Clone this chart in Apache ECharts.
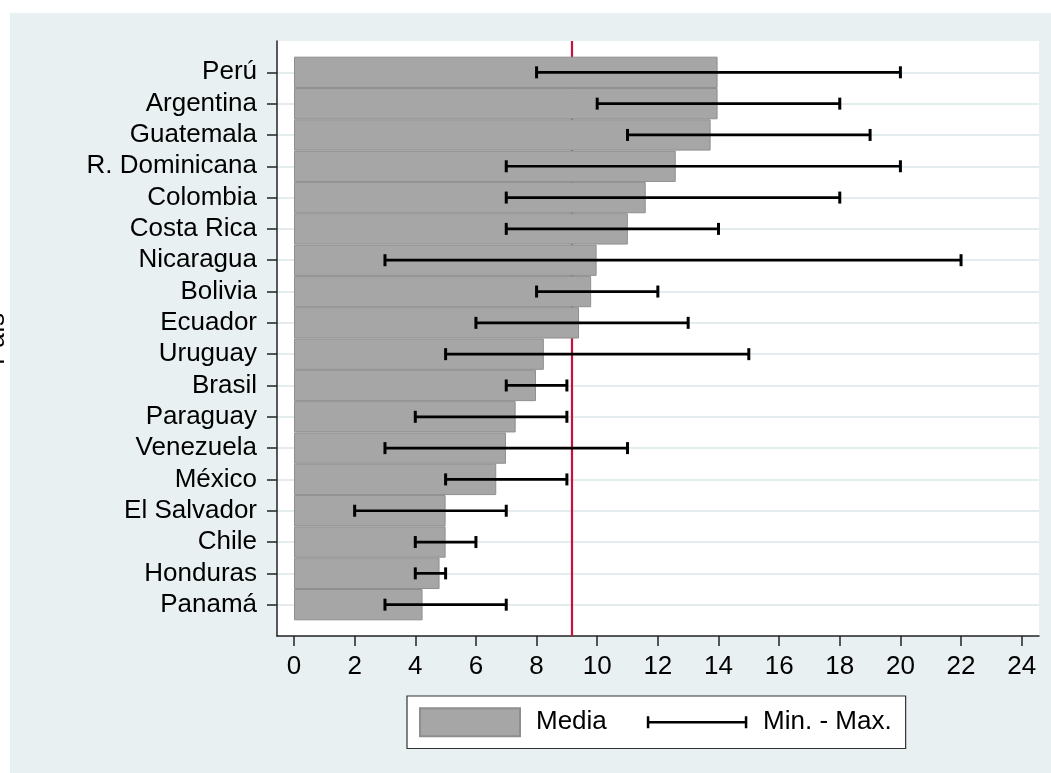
<!DOCTYPE html>
<html><head><meta charset="utf-8">
<script src="https://cdn.jsdelivr.net/npm/echarts@6/dist/echarts.min.js"></script>
<style>html,body{margin:0;padding:0;background:#fff}#c{width:1051px;height:773px}</style>
</head><body><div id="c"></div>
<script>
const countries = ['Perú','Argentina','Guatemala','R. Dominicana','Colombia','Costa Rica','Nicaragua','Bolivia','Ecuador','Uruguay','Brasil','Paraguay','Venezuela','México','El Salvador','Chile','Honduras','Panamá'];
const means = [13.97,13.97,13.74,12.59,11.60,11.01,9.98,9.80,9.40,8.24,7.98,7.31,6.99,6.67,5.00,5.00,4.80,4.24];
const mins = [8,10,11,7,7,7,3,8,6,5,7,4,3,5,2,4,4,3];
const maxs = [20,18,19,20,18,14,22,12,13,15,9,9,11,9,7,6,5,7];
const overallMean = 9.16;
const xTicks = [0,2,4,6,8,10,12,14,16,18,20,22,24];

const FONT = "'Liberation Sans', Arial, sans-serif";
const FS = 26;
// pad category axis with an empty slot at each end
const yCats = [' '].concat(countries, ['  ']);
const isReal = (i) => i > 0 && i < yCats.length - 1;
const barData = ['-'].concat(means, ['-']);
const errData = countries.map((c, i) => [c, mins[i], maxs[i]]);

const chart = echarts.init(document.getElementById('c'), null, {renderer: 'canvas'});
chart.setOption({
  animation: false,
  backgroundColor: '#fff',
  graphic: [
    {type: 'rect', z: -100, shape: {x: 10, y: 13, width: 1041, height: 760}, style: {fill: '#e8f0f2'}},
    {type: 'text', z: 10, x: 9.5, y: 339, rotation: Math.PI / 2,
     style: {text: 'País', font: FS + 'px ' + FONT, fill: '#000', align: 'center', verticalAlign: 'bottom'}}
  ],
  grid: {left: 277, right: 12, top: 41, bottom: 137, show: true, backgroundColor: '#fff', borderWidth: 0, containLabel: false, outerBoundsMode: 'none'},
  legend: {
    left: 407, top: 696, orient: 'horizontal', selectedMode: false,
    padding: [11, 14, 11, 12], itemGap: 39, itemWidth: 100, itemHeight: 28,
    backgroundColor: '#fff', borderColor: '#333', borderWidth: 1.2, borderRadius: 0,
    textStyle: {fontSize: FS, color: '#000', fontFamily: FONT, padding: [0, 0, 0, 11]},
    data: [
      {name: 'Media', icon: 'rect'},
      {name: 'Min. - Max.', icon: 'path://M0,0M0,28M0,14L100,14M1,8L1,20M99,8L99,20',
       itemStyle: {color: 'rgba(0,0,0,0)', borderColor: '#000', borderWidth: 2.5}}
    ]
  },
  xAxis: {
    type: 'value', min: -0.561, max: 24.571,
    axisLine: {show: true, onZero: false, lineStyle: {color: '#222', width: 1.5}},
    axisTick: {show: true, length: 10, customValues: xTicks, lineStyle: {color: '#222', width: 1.5}},
    axisLabel: {customValues: xTicks, fontSize: FS, color: '#000', fontFamily: FONT, margin: 18},
    splitLine: {show: false}
  },
  yAxis: {
    type: 'category', data: yCats, inverse: true, boundaryGap: false,
    axisLine: {show: true, onZero: false, lineStyle: {color: '#222', width: 1.5}},
    axisTick: {show: true, length: 10, interval: (i) => isReal(i), lineStyle: {color: '#222', width: 1.5}},
    axisLabel: {interval: 0, margin: 20, fontSize: FS, color: '#000', fontFamily: FONT},
    splitLine: {show: true, interval: (i) => isReal(i), lineStyle: {color: '#e3ecee', width: 2}}
  },
  series: [
    {
      name: 'Media', type: 'bar', z: 2, data: barData, barCategoryGap: '0%', barGap: '0%',
      itemStyle: {color: '#a6a6a6', borderColor: '#8e8e8e', borderWidth: 1},
      markLine: {
        silent: true, symbol: 'none', z: 1, animation: false,
        label: {show: false},
        lineStyle: {color: '#c8103a', width: 2.2, type: 'solid'},
        data: [{xAxis: overallMean}]
      }
    },
    {
      name: 'Min. - Max.', type: 'custom', z: 3,
      itemStyle: {color: '#000'},
      encode: {y: 0, x: [1, 2]},
      data: errData,
      renderItem: function (params, api) {
        const yi = api.value(0);
        const lo = api.coord([api.value(1), yi]);
        const hi = api.coord([api.value(2), yi]);
        const h = 6;
        return {type: 'group', children: [
          {type: 'line', shape: {x1: lo[0], y1: lo[1], x2: hi[0], y2: hi[1]}, style: {stroke: '#000', lineWidth: 2.7}},
          {type: 'line', shape: {x1: lo[0], y1: lo[1] - h, x2: lo[0], y2: lo[1] + h}, style: {stroke: '#000', lineWidth: 3}},
          {type: 'line', shape: {x1: hi[0], y1: hi[1] - h, x2: hi[0], y2: hi[1] + h}, style: {stroke: '#000', lineWidth: 3}}
        ]};
      }
    }
  ]
});
</script>
</body></html>
